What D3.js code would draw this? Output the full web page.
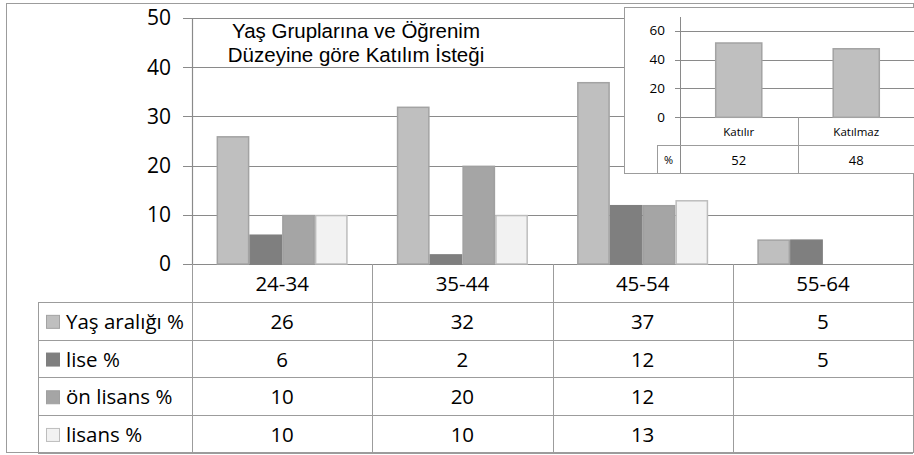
<!DOCTYPE html>
<html>
<head>
<meta charset="utf-8">
<script src="https://cdn.jsdelivr.net/npm/d3@7"></script>
<style>
  body { margin: 0; background: #fff; }
  svg text { font-family: "Open Sans", sans-serif; fill: #000; }
</style>
</head>
<body>
<script>
// main chart data
const categories = ["24-34", "35-44", "45-54", "55-64"];
const seriesNames = ["Yaş aralığı %", "lise %", "ön lisans %", "lisans %"];
const yasAraligi = [26, 32, 37, 5];
const lise = [6, 2, 12, 5];
const onLisans = [10, 20, 12, null];
const lisans = [10, 10, 13, null];
const yTicks = [0, 10, 20, 30, 40, 50];
const titleLines = ["Yaş Gruplarına ve Öğrenim", "Düzeyine göre Katılım İsteği"];

// inset data
const insetCategories = ["Katılır", "Katılmaz"];
const insetValues = [52, 48];
const insetTicks = [0, 20, 40, 60];
const insetRowLabel = "%";

const series = [yasAraligi, lise, onLisans, lisans];
const fills = ["#BFBFBF", "#7F7F7F", "#A5A5A5", "#F2F2F2"];
const strokes = ["#A3A3A3", "#7F7F7F", "#A0A0A0", "#BDBDBD"];

const width = 914, height = 455;
const lineColor = "#9C9C9C";
const mainFont = "20.5px";

const svg = d3.select("body").append("svg")
  .attr("width", width)
  .attr("height", height);

svg.append("rect").attr("width", width).attr("height", height).attr("fill", "#fff");

// outer frame
svg.append("rect")
  .attr("x", 6.5).attr("y", 3.5)
  .attr("width", 907).attr("height", 449)
  .attr("fill", "none").attr("stroke", lineColor);

const x = d3.scaleBand().domain(categories).range([192, 913]);
const x1 = d3.scaleBand().domain(seriesNames).range([0, x.bandwidth()])
  .paddingInner(0).paddingOuter(0.75);
const y = d3.scaleLinear().domain([0, 50]).range([264, 18]);

// gridlines + tick marks
svg.append("g").selectAll("line")
  .data(yTicks)
  .join("line")
  .attr("x1", 183).attr("x2", 913)
  .attr("y1", d => Math.round(y(d)) + 0.5)
  .attr("y2", d => Math.round(y(d)) + 0.5)
  .attr("stroke", "#8A8A8A").attr("stroke-width", 1.2);

svg.append("line")
  .attr("x1", 192.5).attr("x2", 192.5)
  .attr("y1", y(50)).attr("y2", y(0))
  .attr("stroke", "#8A8A8A").attr("stroke-width", 1.2);

svg.append("g").selectAll("text")
  .data(yTicks)
  .join("text")
  .attr("x", 171)
  .attr("y", d => y(d))
  .attr("dy", "0.35em")
  .attr("text-anchor", "end")
  .style("font-size", "21px")
  .text(d => d);

// bars
const groups = svg.append("g").selectAll("g")
  .data(categories)
  .join("g")
  .attr("transform", d => "translate(" + x(d) + ",0)");

groups.selectAll("rect")
  .data((c, ci) => series.map((s, si) => ({ name: seriesNames[si], si: si, v: s[ci] })).filter(d => d.v != null))
  .join("rect")
  .attr("x", d => x1(d.name) + 0.75)
  .attr("width", x1.bandwidth() - 1.5)
  .attr("y", d => y(d.v) + 0.75)
  .attr("height", d => y(0) - y(d.v) - 0.75)
  .attr("fill", d => fills[d.si])
  .attr("stroke", d => strokes[d.si])
  .attr("stroke-width", 1.5);

// title (one text, two lines)
svg.append("text")
  .attr("text-anchor", "middle")
  .style("font-family", "'Liberation Sans', sans-serif")
  .style("font-size", mainFont)
  .selectAll("tspan")
  .data(titleLines)
  .join("tspan")
  .attr("x", 356)
  .attr("y", (d, i) => 38 + i * 23.5)
  .text(d => d);

// data table
const rowTop = 302, rowH = 37.7;
const tableBottom = rowTop + rowH * seriesNames.length;
const table = svg.append("g").attr("stroke", lineColor).attr("stroke-width", 1);

table.selectAll("line.v")
  .data(categories.map(c => x(c)).concat([x.range()[1]]))
  .join("line")
  .attr("class", "v")
  .attr("x1", d => Math.round(d) + 0.5).attr("x2", d => Math.round(d) + 0.5)
  .attr("y1", y(0)).attr("y2", tableBottom);

table.selectAll("line.h")
  .data(d3.range(seriesNames.length + 1))
  .join("line")
  .attr("class", "h")
  .attr("x1", 38).attr("x2", 913)
  .attr("y1", i => Math.round(rowTop + i * rowH) + 0.5)
  .attr("y2", i => Math.round(rowTop + i * rowH) + 0.5);

table.append("line")
  .attr("x1", 38.5).attr("x2", 38.5)
  .attr("y1", rowTop).attr("y2", tableBottom);

svg.append("g").selectAll("text")
  .data(categories)
  .join("text")
  .attr("x", d => x(d) + x.bandwidth() / 2)
  .attr("y", (y(0) + rowTop) / 2 + 1)
  .attr("dy", "0.35em")
  .attr("text-anchor", "middle")
  .style("font-size", mainFont)
  .text(d => d);

const rows = svg.append("g").selectAll("g")
  .data(seriesNames)
  .join("g")
  .attr("transform", (d, i) => "translate(0," + (rowTop + i * rowH + rowH / 2 + 1) + ")");

rows.append("rect")
  .attr("x", 46.5).attr("y", -6.5)
  .attr("width", 13).attr("height", 13)
  .attr("fill", (d, i) => fills[i])
  .attr("stroke", (d, i) => strokes[i]);

rows.append("text")
  .attr("x", 66)
  .attr("dy", "0.35em")
  .style("font-size", mainFont)
  .text(d => d);

rows.selectAll("text.val")
  .data((d, i) => categories.map((c, ci) => ({ c: c, v: series[i][ci] })))
  .join("text")
  .attr("class", "val")
  .attr("x", d => x(d.c) + x.bandwidth() / 2)
  .attr("dy", "0.35em")
  .attr("text-anchor", "middle")
  .style("font-size", mainFont)
  .text(d => d.v == null ? "" : d.v);

// inset chart
const inset = svg.append("g");
inset.append("rect")
  .attr("x", 624.5).attr("y", 7.5)
  .attr("width", 290).attr("height", 166)
  .attr("fill", "#fff").attr("stroke", lineColor);

const xi = d3.scaleBand().domain(insetCategories).range([680, 915])
  .paddingInner(0.595).paddingOuter(0.2975);
const xiCell = d3.scaleBand().domain(insetCategories).range([680, 915]);
const yi = d3.scaleLinear().domain([0, 60]).range([117.3, 30.7]);

inset.append("g").selectAll("line")
  .data(insetTicks)
  .join("line")
  .attr("x1", 675).attr("x2", 914)
  .attr("y1", d => Math.round(yi(d)) + 0.5)
  .attr("y2", d => Math.round(yi(d)) + 0.5)
  .attr("stroke", "#8A8A8A").attr("stroke-width", 1.2);

inset.append("g").selectAll("text")
  .data(insetTicks)
  .join("text")
  .attr("x", 665)
  .attr("y", d => yi(d))
  .attr("dy", "0.35em")
  .attr("text-anchor", "end")
  .style("font-size", "13.5px")
  .text(d => d);

inset.append("g").selectAll("rect")
  .data(insetCategories)
  .join("rect")
  .attr("x", d => xi(d) + 0.75)
  .attr("width", xi.bandwidth() - 1.5)
  .attr("y", (d, i) => yi(insetValues[i]) + 0.75)
  .attr("height", (d, i) => yi(0) - yi(insetValues[i]) - 0.75)
  .attr("fill", fills[0])
  .attr("stroke", strokes[0])
  .attr("stroke-width", 1.5);

const iRowTop = 145, iBottom = 173;
const it = inset.append("g").attr("stroke", lineColor);
it.append("line").attr("x1", 680.5).attr("x2", 680.5).attr("y1", 17).attr("y2", iBottom)
  .attr("stroke", "#8A8A8A");
it.append("line").attr("x1", Math.round(xiCell("Katılmaz")) + 0.5).attr("x2", Math.round(xiCell("Katılmaz")) + 0.5)
  .attr("y1", yi(0)).attr("y2", iBottom);
it.append("line").attr("x1", 657).attr("x2", 914).attr("y1", iRowTop + 0.5).attr("y2", iRowTop + 0.5);
it.append("line").attr("x1", 657.5).attr("x2", 657.5).attr("y1", iRowTop).attr("y2", iBottom);

inset.append("g").selectAll("text")
  .data(insetCategories)
  .join("text")
  .attr("x", d => xiCell(d) + xiCell.bandwidth() / 2)
  .attr("y", (yi(0) + iRowTop) / 2 + 1)
  .attr("dy", "0.35em")
  .attr("text-anchor", "middle")
  .style("font-size", "11.5px")
  .text(d => d);

inset.append("g").selectAll("text")
  .data(insetValues)
  .join("text")
  .attr("x", (d, i) => xiCell(insetCategories[i]) + xiCell.bandwidth() / 2)
  .attr("y", (iRowTop + iBottom) / 2 + 1)
  .attr("dy", "0.35em")
  .attr("text-anchor", "middle")
  .style("font-size", "13px")
  .text(d => d);

inset.append("text")
  .attr("x", 668.5)
  .attr("y", (iRowTop + iBottom) / 2 + 1)
  .attr("dy", "0.35em")
  .attr("text-anchor", "middle")
  .style("font-size", "11px")
  .text(insetRowLabel);
</script>
</body>
</html>
